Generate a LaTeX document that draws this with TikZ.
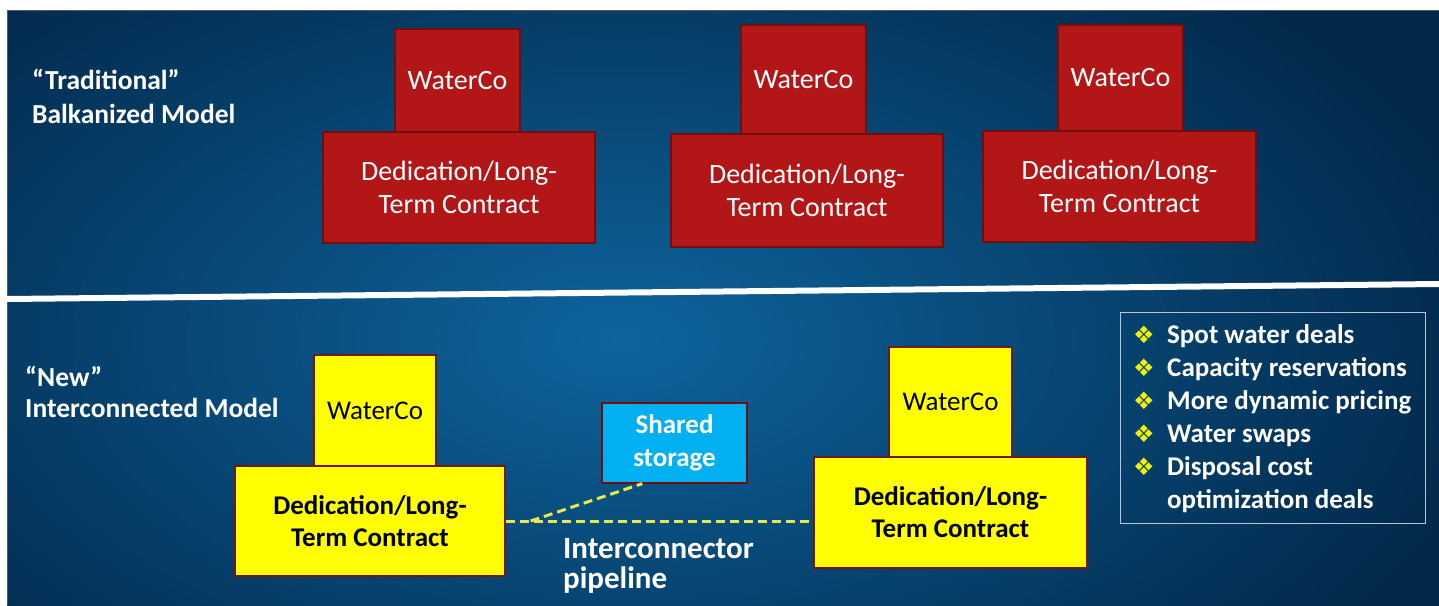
\documentclass[tikz,border=0pt]{standalone}
\usepackage{fontspec}
\setmainfont{Carlito}
\newfontfamily\dingfont{DejaVu Sans}
\usetikzlibrary{calc}

\definecolor{bgdark}{RGB}{2,40,74}
\definecolor{bglight}{RGB}{14,100,158}
\definecolor{boxred}{RGB}{178,22,22}
\definecolor{rededge}{RGB}{115,14,14}
\definecolor{boxyellow}{RGB}{255,255,0}
\definecolor{yellowedge}{RGB}{110,25,20}
\definecolor{storecyan}{RGB}{0,176,240}
\definecolor{pipeyellow}{RGB}{232,232,72}
\definecolor{framegray}{RGB}{185,198,210}
\definecolor{bulletyellow}{RGB}{240,240,20}

\newcommand\bulletmark{\makebox[34pt][l]{\dingfont\fontsize{24}{24}\selectfont\color{bulletyellow}❖}}

\tikzset{
  box/.style={inner sep=0pt, align=center, line width=1.2pt},
  redbox/.style={box, draw=rededge, fill=boxred, text=white,
    font=\fontsize{28}{33}\selectfont},
  yellowtop/.style={box, draw=yellowedge, fill=boxyellow, text=black,
    font=\fontsize{27}{32}\selectfont},
  yellowbase/.style={box, draw=yellowedge, fill=boxyellow, text=black,
    font=\bfseries\fontsize{27}{32}\selectfont},
  storebox/.style={box, draw=rededge, fill=storecyan, text=white,
    font=\bfseries\fontsize{27}{33}\selectfont},
  label/.style={inner sep=0pt, anchor=base west, text=white,
    font=\bfseries\fontsize{27.5}{30}\selectfont},
  item/.style={inner sep=0pt, anchor=base west, text=white,
    font=\bfseries\fontsize{27}{30}\selectfont},
  pipe/.style={draw=pipeyellow, line width=3pt, dash pattern=on 9pt off 5pt},
}

\begin{document}
\begin{tikzpicture}[x=1pt,y=-1pt]
  \useasboundingbox (0,0) rectangle (1439,605);
  \fill[white] (0,0) rectangle (1439,605);

  % slide background
  \begin{scope}
    \clip (7,10) rectangle (1439,605);
    \shade[inner color=bglight, outer color=bgdark] (-280,-150) rectangle (1520,830);
  \end{scope}
  \draw[gray!70!black, line width=0.8pt] (7,605) -- (7,10) -- (1439,10);

  % divider between the two models
  \draw[white, line width=6pt] (7,299) -- (1439,284);

  % traditional model
  \node[label] (tradA) at (32,89) {“Traditional”};
  \node[label] (tradB) at (32,123) {Balkanized Model};

  \node[redbox, minimum width=125pt, minimum height=103pt] (wc1) at (457.5,80.5) {WaterCo};
  \node[redbox, minimum width=272pt, minimum height=111pt] (dc1) at (459,187.5) {Dedication/Long-\\Term Contract};

  \node[redbox, minimum width=125pt, minimum height=109pt] (wc2) at (803.5,79.5) {WaterCo};
  \node[redbox, minimum width=272pt, minimum height=113pt] (dc2) at (807,190.5) {Dedication/Long-\\Term Contract};

  \node[redbox, minimum width=125pt, minimum height=106pt] (wc3) at (1120.5,78) {WaterCo};
  \node[redbox, minimum width=273pt, minimum height=111pt] (dc3) at (1119.5,186.5) {Dedication/Long-\\Term Contract};

  % interconnected model
  \node[label] (newA) at (25,386) {“New”};
  \node[label] (newB) at (25,417) {Interconnected Model};

  \node[yellowtop, minimum width=122pt, minimum height=111pt] (wcL) at (375,410.5) {WaterCo};
  \node[yellowbase, minimum width=270pt, minimum height=110pt] (dcL) at (370,521) {Dedication/Long-\\Term Contract};

  \node[yellowtop, minimum width=123pt, minimum height=110pt] (wcR) at (950.5,402) {WaterCo};
  \node[yellowbase, minimum width=273pt, minimum height=111pt] (dcR) at (950.5,512.5) {Dedication/Long-\\Term Contract};

  \node[storebox, minimum width=145pt, minimum height=80pt] (store) at (674.5,443) {Shared\\storage};

  % interconnector pipeline and branch to storage
  \coordinate (tee) at ($(dcL.east)+(25,0)$);
  \coordinate (storeTap) at ($(store.south west)!0.28!(store.south east)$);
  \draw[pipe] (dcL.east) -- (dcL.east -| dcR.west);
  \draw[pipe] (tee) -- (storeTap);

  \node[label, font=\bfseries\fontsize{31}{30}\selectfont] (pipeA) at (563,558) {Interconnector};
  \node[label, font=\bfseries\fontsize{31}{30}\selectfont] (pipeB) at (563,588) {pipeline};

  % market features
  \node[draw=framegray, line width=1pt, minimum width=305pt, minimum height=211pt, inner sep=0pt]
    (panel) at (1272.5,417.5) {};
  \node[item] (i1) at (1133,343) {\bulletmark Spot water deals};
  \node[item] (i2) at (1133,376) {\bulletmark Capacity reservations};
  \node[item] (i3) at (1133,409) {\bulletmark More dynamic pricing};
  \node[item] (i4) at (1133,442) {\bulletmark Water swaps};
  \node[item] (i5) at (1133,475) {\bulletmark Disposal cost};
  \node[item] (i6) at (1167,508) {optimization deals};
\end{tikzpicture}
\end{document}
